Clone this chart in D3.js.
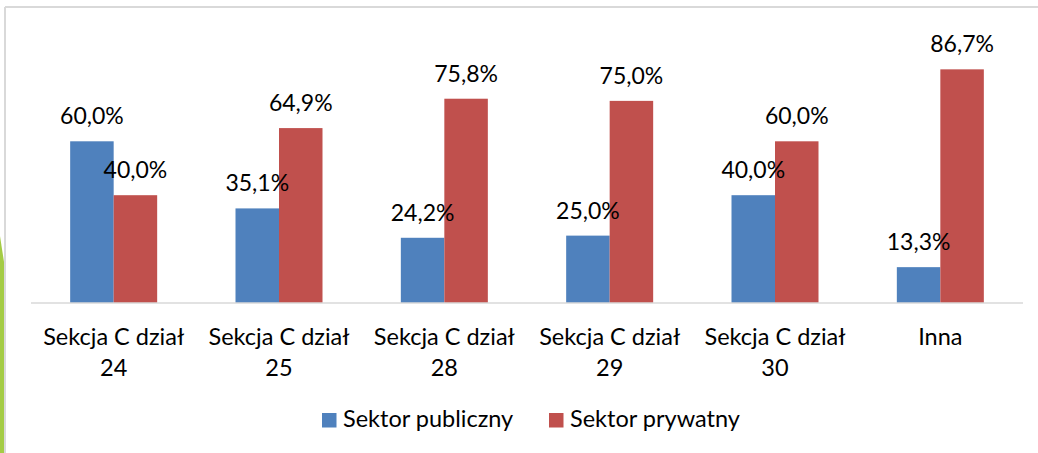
<!DOCTYPE html>
<html>
<head>
<meta charset="utf-8">
<script src="https://cdn.jsdelivr.net/npm/d3@7"></script>
<style>
body { margin: 0; background: #fff; }
svg { display: block; }
</style>
</head>
<body>
<script>
// data
var categories = [["Sekcja C dział", "24"], ["Sekcja C dział", "25"], ["Sekcja C dział", "28"], ["Sekcja C dział", "29"], ["Sekcja C dział", "30"], ["Inna"]];
var seriesNames = ["Sektor publiczny", "Sektor prywatny"];
var publiczny = [60.0, 35.1, 24.2, 25.0, 40.0, 13.3];
var prywatny = [40.0, 64.9, 75.8, 75.0, 60.0, 86.7];
var colors = ["#4F81BD", "#C0504D"];

var W = 1038, H = 453;
var fontFam = "Lato, 'Open Sans', sans-serif";

var svg = d3.select("body").append("svg")
    .attr("width", W)
    .attr("height", H);

svg.append("rect").attr("width", W).attr("height", H).attr("fill", "#fff");

// frame lines (top & left visible)
svg.append("line")
    .attr("x1", 5).attr("x2", W).attr("y1", 7).attr("y2", 7)
    .attr("stroke", "#d9d9d9").attr("stroke-width", 2);
svg.append("line")
    .attr("x1", 5).attr("x2", 5).attr("y1", 7).attr("y2", H)
    .attr("stroke", "#d9d9d9").attr("stroke-width", 2);

// green slide decoration on the left
svg.append("path")
    .attr("d", "M0,236 L4,262 L4," + H + " L0," + H + " Z")
    .attr("fill", "#A4CC45");

var x0 = d3.scaleBand()
    .domain(d3.range(categories.length))
    .range([31, 1023]);

var barW = 43.5;
var x1 = d3.scaleBand()
    .domain(seriesNames)
    .range([x0.bandwidth() / 2 - barW, x0.bandwidth() / 2 + barW]);

var y = d3.scaleLinear()
    .domain([0, 100])
    .range([303, 33.5]);

var rows = categories.map(function (c, i) {
    return { i: i, vals: [publiczny[i], prywatny[i]] };
});

var groups = svg.selectAll("g.grp")
    .data(rows)
    .enter()
    .append("g")
    .attr("class", "grp")
    .attr("transform", function (d) { return "translate(" + x0(d.i) + ",0)"; });

groups.selectAll("rect")
    .data(function (d) { return d.vals.map(function (v, k) { return { k: k, v: v }; }); })
    .enter()
    .append("rect")
    .attr("x", function (d) { return x1(seriesNames[d.k]); })
    .attr("width", x1.bandwidth())
    .attr("y", function (d) { return y(d.v); })
    .attr("height", function (d) { return y(0) - y(d.v); })
    .attr("fill", function (d) { return colors[d.k]; });

// axis line
svg.append("line")
    .attr("x1", 31).attr("x2", 1023)
    .attr("y1", y(0)).attr("y2", y(0))
    .attr("stroke", "#d9d9d9").attr("stroke-width", 1.5);

// data labels
groups.selectAll("text.lbl")
    .data(function (d) { return d.vals.map(function (v, k) { return { k: k, v: v }; }); })
    .enter()
    .append("text")
    .attr("class", "lbl")
    .attr("x", function (d) { return x1(seriesNames[d.k]) + x1.bandwidth() / 2; })
    .attr("y", function (d) { return y(d.v) - 17; })
    .attr("text-anchor", "middle")
    .attr("font-family", fontFam)
    .attr("font-size", "23px")
    .attr("fill", "#000")
    .text(function (d) { return d.v.toFixed(1).replace(".", ",") + "%"; });

// category labels
var catText = svg.selectAll("text.cat")
    .data(categories)
    .enter()
    .append("text")
    .attr("class", "cat")
    .attr("text-anchor", "middle")
    .attr("font-family", fontFam)
    .attr("font-size", "23.5px")
    .attr("fill", "#000");

catText.selectAll("tspan")
    .data(function (d, i) { return d.map(function (s, j) { return { s: s, j: j, i: i }; }); })
    .enter()
    .append("tspan")
    .attr("x", function (d) { return x0(d.i) + x0.bandwidth() / 2; })
    .attr("y", function (d) { return 345 + d.j * 31; })
    .text(function (d) { return d.s; });

// legend
var legX = [322, 549];
var leg = svg.selectAll("g.leg")
    .data(seriesNames)
    .enter()
    .append("g")
    .attr("class", "leg")
    .attr("transform", function (d, i) { return "translate(" + legX[i] + ",413)"; });

leg.append("rect")
    .attr("width", 14.5)
    .attr("height", 14.5)
    .attr("fill", function (d, i) { return colors[i]; });

leg.append("text")
    .attr("x", 21)
    .attr("y", 14)
    .attr("font-family", fontFam)
    .attr("font-size", "23.5px")
    .attr("fill", "#000")
    .text(function (d) { return d; });
</script>
</body>
</html>
